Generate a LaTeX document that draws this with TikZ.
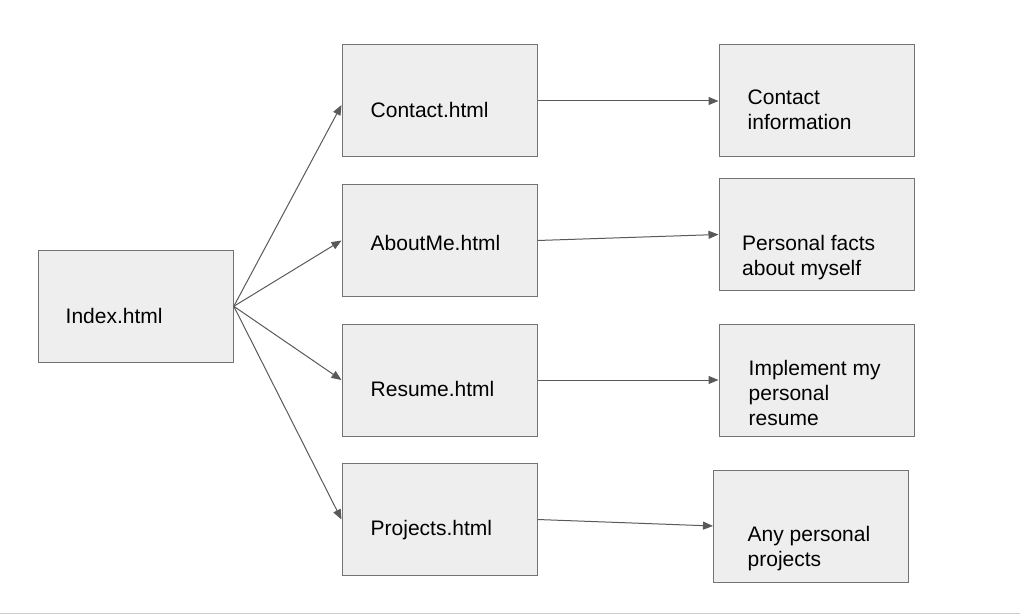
\documentclass[tikz,border=0pt]{standalone}
\usepackage{fontspec}
\setmainfont{Liberation Sans}
\usetikzlibrary{arrows.meta}
\definecolor{boxfill}{HTML}{EEEEEE}
\definecolor{boxline}{HTML}{737373}
\definecolor{arrowline}{HTML}{595959}
\definecolor{pageline}{HTML}{CCCCCC}
\tikzset{
	page/.style={rectangle, draw=boxline, fill=boxfill, line width=1pt, minimum width=195pt, minimum height=112pt, inner sep=0pt},
	pagetext/.style={anchor=base west, inner sep=0pt, align=left, font=\fontsize{21}{25}\selectfont},
	link/.style={draw=arrowline, line width=1pt, -{Triangle[length=10pt,width=8pt]}}
}
\begin{document}
\begin{tikzpicture}[x=1pt, y=-1pt]
			\useasboundingbox (0,0) rectangle (1020,615);
			\draw[pageline, line width=1pt] (0,613) -- (1020,613);
			\foreach \coord/\name in {
				{135.8,306.3}/index,
				{439.5,101}/contact,
				{439.5,240.5}/aboutme,
				{439.5,380}/resume,
				{439.5,519.5}/projects,
				{816.5,101}/info,
				{816.5,234.5}/facts,
				{816.5,380}/implement,
				{811,526}/anyproj}{
			\node[page] (\name) at (\coord) {};
			}
			% base west sits on the last line of the text
			\foreach \coord/\name/\txt in {
				{65.5,323.3}/index/Index.html,
				{370.5,117.3}/contact/Contact.html,
				{370.5,250}/aboutme/AboutMe.html,
				{370.5,396}/resume/Resume.html,
				{370.5,535}/projects/Projects.html,
				{747.5,129.3}/info/Contact\\information,
				{742,275.5}/facts/Personal facts\\about myself,
				{748.5,425.5}/implement/Implement my\\personal\\resume,
				{747.5,566.7}/anyproj/Any personal\\projects}{
			\node[pagetext] (\name T) at (\coord) {\txt};
			}
			\draw[link] (index.east) -- ([yshift=-4pt]contact.west);
			\draw[link] (index.east) -- (aboutme.west);
			\draw[link] (index.east) -- (resume.west);
			\draw[link] (index.east) -- (projects.west);
			\draw[link] (contact.east) -- (info.west);
			\draw[link] (aboutme.east) -- (facts.west);
			\draw[link] (resume.east) -- (implement.west);
			\draw[link] (projects.east) -- (anyproj.west);
\end{tikzpicture}
\end{document}
